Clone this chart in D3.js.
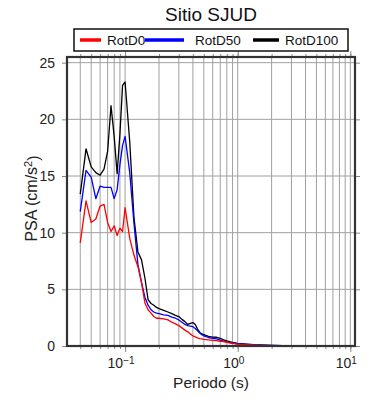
<!DOCTYPE html>
<html>
<head>
<meta charset="utf-8">
<script src="https://cdn.jsdelivr.net/npm/d3@7"></script>
<style>
  body { margin: 0; background: #fff; }
  text { font-family: "Liberation Sans", Arial, Helvetica, sans-serif; }
</style>
</head>
<body>
<div id="chart"></div>
<script>
// periods (s)
var periods = [0.04, 0.045, 0.05, 0.055, 0.06, 0.065, 0.07, 0.075, 0.08, 0.085, 0.09, 0.095,
  0.1, 0.11, 0.12, 0.13, 0.14, 0.15, 0.16, 0.17, 0.18, 0.19, 0.2, 0.22, 0.24, 0.26, 0.28,
  0.3, 0.32, 0.34, 0.36, 0.38, 0.4, 0.42, 0.44, 0.46, 0.48, 0.5, 0.55, 0.6, 0.65, 0.7,
  0.75, 0.8, 0.85, 0.9, 0.95, 1, 1.2, 1.4, 1.6, 1.8, 2, 2.5, 3, 4, 5, 6, 7, 8, 9, 10];

var rotD0 = [9.1, 12.8, 10.9, 11.2, 12.35, 12.5, 10.9, 10.1, 10.6, 9.75, 10.4, 10.1,
  12.2, 9.5, 8.0, 7.0, 5.6, 3.8, 3.2, 2.9, 2.6, 2.45, 2.45, 2.4, 2.3, 2.1, 1.95,
  1.8, 1.6, 1.4, 1.25, 1.05, 0.9, 0.8, 0.72, 0.66, 0.62, 0.58, 0.54, 0.5, 0.47, 0.42,
  0.38, 0.33, 0.28, 0.24, 0.2, 0.17, 0.11, 0.08, 0.06, 0.05, 0.04, 0.03, 0.02, 0.015, 0.01, 0.01, 0.008, 0.007, 0.006, 0.005];

var rotD50 = [11.85, 15.5, 14.9, 13.0, 14.1, 14.0, 14.0, 14.0, 13.0, 13.8, 16.0, 17.7,
  18.5, 15.3, 10.8, 7.2, 5.6, 4.3, 3.6, 3.2, 3.0, 2.9, 2.85, 2.75, 2.7, 2.55, 2.45,
  2.3, 2.1, 1.9, 1.8, 1.75, 1.7, 1.55, 1.35, 1.15, 1.0, 0.9, 0.75, 0.68, 0.62, 0.52,
  0.42, 0.35, 0.3, 0.26, 0.22, 0.2, 0.14, 0.1, 0.08, 0.06, 0.05, 0.035, 0.025, 0.018, 0.013, 0.01, 0.009, 0.008, 0.007, 0.006];

var rotD100 = [13.4, 17.4, 15.8, 15.3, 15.07, 15.6, 17.2, 21.2, 18.5, 15.2, 18.7, 23.0,
  23.3, 18.0, 11.3, 8.3, 7.6, 6.0, 4.1, 3.75, 3.6, 3.4, 3.3, 3.15, 3.0, 2.85, 2.7,
  2.6, 2.35, 2.15, 1.9, 2.0, 2.07, 1.9, 1.5, 1.2, 1.06, 1.0, 0.85, 0.78, 0.77, 0.68,
  0.55, 0.45, 0.38, 0.32, 0.28, 0.24, 0.17, 0.12, 0.09, 0.07, 0.06, 0.04, 0.03, 0.02, 0.015, 0.012, 0.01, 0.009, 0.008, 0.007];

var seriesNames = ["RotD0", "RotD50", "RotD100"];
var seriesColors = ["#ff0000", "#0000ff", "#000000"];
var yTicks = [0, 5, 10, 15, 20, 25];
var xMajor = [0.1, 1, 10];
var xMajorExp = ["\u22121", "0", "1"];

var W = 390, H = 400;
var margin = {top: 57, right: 35, bottom: 54, left: 67};
var width = W - margin.left - margin.right,
    height = H - margin.top - margin.bottom;

var svg = d3.select("#chart").append("svg")
  .attr("width", W)
  .attr("height", H);

var g = svg.append("g")
  .attr("transform", "translate(" + margin.left + "," + margin.top + ")");

var x = d3.scaleLog().domain([0.0305, 11]).range([0, width]);
var y = d3.scaleLinear().domain([0, 25.5]).range([height, 0]);

// minor log ticks
var xMinor = [];
[0.01, 0.1, 1].forEach(function(dec) {
  for (var k = 1; k <= 9; k++) {
    var v = dec * k;
    if (v >= 0.0305 && v <= 11) xMinor.push(v);
  }
});
xMinor.push(10);

// grid
g.append("g").selectAll("line")
  .data(xMinor)
  .enter().append("line")
    .attr("x1", d => x(d)).attr("x2", d => x(d))
    .attr("y1", 0).attr("y2", height)
    .attr("stroke", "#a0a0a0").attr("stroke-width", 1);

g.append("g").selectAll("line")
  .data(yTicks.slice(1))
  .enter().append("line")
    .attr("x1", 0).attr("x2", width)
    .attr("y1", d => y(d)).attr("y2", d => y(d))
    .attr("stroke", "#a0a0a0").attr("stroke-width", 1);

// ticks on frame
function styleAxis(sel) {
  sel.select(".domain").remove();
  sel.selectAll(".tick line").attr("stroke", "#888");
  sel.selectAll(".tick text").remove();
}

g.append("g").attr("transform", "translate(0," + height + ")")
  .call(d3.axisBottom(x).tickValues(xMinor).tickSize(3).tickFormat(""))
  .call(styleAxis);
g.append("g").attr("transform", "translate(0," + height + ")")
  .call(d3.axisBottom(x).tickValues(xMajor).tickSize(6).tickFormat(""))
  .call(styleAxis);
g.append("g")
  .call(d3.axisTop(x).tickValues(xMinor).tickSize(3).tickFormat(""))
  .call(styleAxis);
g.append("g")
  .call(d3.axisTop(x).tickValues(xMajor).tickSize(6).tickFormat(""))
  .call(styleAxis);
g.append("g")
  .call(d3.axisLeft(y).tickValues(yTicks).tickSize(5).tickFormat(""))
  .call(styleAxis);
g.append("g").attr("transform", "translate(" + width + ",0)")
  .call(d3.axisRight(y).tickValues(yTicks).tickSize(5).tickFormat(""))
  .call(styleAxis);

// series
var line = d3.line()
  .x(d => x(d[0]))
  .y(d => y(d[1]));

var allSeries = [rotD0, rotD50, rotD100];
[2, 1, 0].forEach(function(i) {
  g.append("path")
    .datum(periods.map((p, j) => [p, allSeries[i][j]]))
    .attr("fill", "none")
    .attr("stroke", seriesColors[i])
    .attr("stroke-width", 1.3)
    .attr("stroke-linejoin", "round")
    .attr("d", line);
});

// frame
g.append("rect")
  .attr("x", 0).attr("y", 0)
  .attr("width", width).attr("height", height)
  .attr("fill", "none")
  .attr("stroke", "#333")
  .attr("stroke-width", 2.2);

// y labels
g.append("g").selectAll("text")
  .data(yTicks)
  .enter().append("text")
    .attr("x", -12)
    .attr("y", d => y(d))
    .attr("dy", "0.36em")
    .attr("text-anchor", "end")
    .style("font-size", "14px")
    .style("fill", "#222")
    .text(d => d);

// x labels 10^n
var xl = g.append("g").selectAll("text")
  .data(xMajor)
  .enter().append("text")
    .attr("x", d => x(d) - 4)
    .attr("y", height + 22)
    .attr("text-anchor", "middle")
    .style("font-size", "14px")
    .style("fill", "#222");
xl.append("tspan").text("10");
xl.append("tspan")
  .attr("dy", "-0.45em")
  .style("font-size", "10px")
  .text((d, i) => xMajorExp[i]);

// axis titles
g.append("text")
  .attr("x", width / 2)
  .attr("y", height + 42)
  .attr("text-anchor", "middle")
  .style("font-size", "15.5px")
  .style("fill", "#222")
  .text("Periodo (s)");

var yl = g.append("text")
  .attr("transform", "translate(-30," + (height / 2 - 3) + ") rotate(-90)")
  .attr("text-anchor", "middle")
  .style("font-size", "16px")
  .style("fill", "#222");
yl.append("tspan").text("PSA (cm/s");
yl.append("tspan").attr("dy", "-0.45em").style("font-size", "11px").text("2");
yl.append("tspan").attr("dy", "0.45em").text(")");

// title
svg.append("text")
  .attr("x", 211)
  .attr("y", 21)
  .attr("text-anchor", "middle")
  .style("font-size", "19px")
  .style("fill", "#111")
  .text("Sitio SJUD");

// legend
var leg = svg.append("g");
leg.append("rect")
  .attr("x", 74).attr("y", 29)
  .attr("width", 274).attr("height", 22)
  .attr("fill", "#fff")
  .attr("stroke", "#111")
  .attr("stroke-width", 1.5);

var legX = [[80, 101, 107], [145, 184, 195], [253, 279, 285]];
seriesNames.forEach(function(name, i) {
  leg.append("line")
    .attr("x1", legX[i][0]).attr("x2", legX[i][1])
    .attr("y1", 40).attr("y2", 40)
    .attr("stroke", seriesColors[i])
    .attr("stroke-width", 3.5);
  leg.append("text")
    .attr("x", legX[i][2])
    .attr("y", 45)
    .style("font-size", "13.5px")
    .style("fill", "#111")
    .text(name);
});
</script>
</body>
</html>
